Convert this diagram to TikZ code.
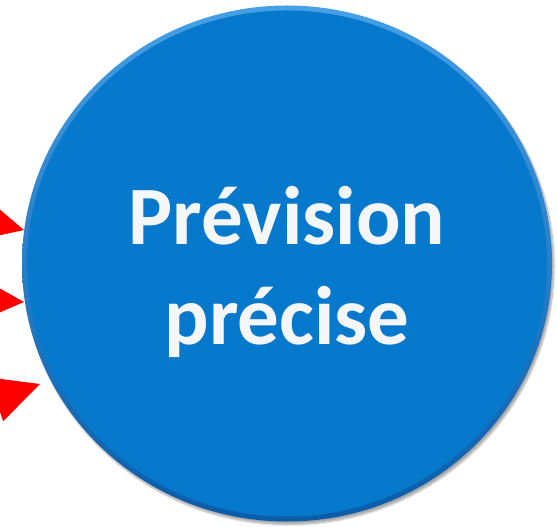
\documentclass[tikz,border=0pt]{standalone}
\usepackage{fontspec}
\setmainfont{Carlito}
\usetikzlibrary{shapes.geometric, arrows.meta, shadows.blur, calc}

\definecolor{discblue}{RGB}{7,121,205}
\definecolor{rimlight}{RGB}{70,160,230}
\definecolor{rimdark}{RGB}{10,92,168}
\definecolor{feedred}{RGB}{255,0,0}
\definecolor{txtwhite}{RGB}{245,246,248}

\begin{document}
\begin{tikzpicture}[x=1pt, y=1pt,
    disc/.style={ellipse, minimum width=530pt, minimum height=516pt, inner sep=0pt,
        top color=rimlight, bottom color=rimdark,
        blur shadow={shadow xshift=2pt, shadow yshift=-3pt, shadow blur steps=8, shadow opacity=35},
        path picture={\fill[discblue] (path picture bounding box.center) ellipse [x radius=260, y radius=253];}},
    msg/.style={text=txtwhite, font=\bfseries\fontsize{83}{100}\selectfont, align=center},
    feed/.style={draw=feedred, line width=2pt, -{Triangle[length=47pt, width=46pt, fill=feedred]}}]
    % 1. Cadre
    \useasboundingbox (0,0) rectangle (557,527);
    \clip (0,0) rectangle (557,527);

    % 2. Disque et texte
    \node[disc] (prev) at (287,263.5) {};
    \node[msg] (txt) at ([yshift=-8pt]prev.center) {Prévision\\précise};

    % 3. Flèches rouges
    \coordinate (t1) at (24,297);
    \coordinate (t2) at (24,225);
    \coordinate (t3) at (40,143);
    \coordinate (s1) at ($(t1)+(166:100)$);
    \coordinate (s2) at ($(t2)+(177:100)$);
    \coordinate (s3) at ($(t3)+(199:100)$);
    \draw[feed] (s1) -- (t1);
    \draw[feed] (s2) -- (t2);
    \draw[feed] (s3) -- (t3);
\end{tikzpicture}
\end{document}
